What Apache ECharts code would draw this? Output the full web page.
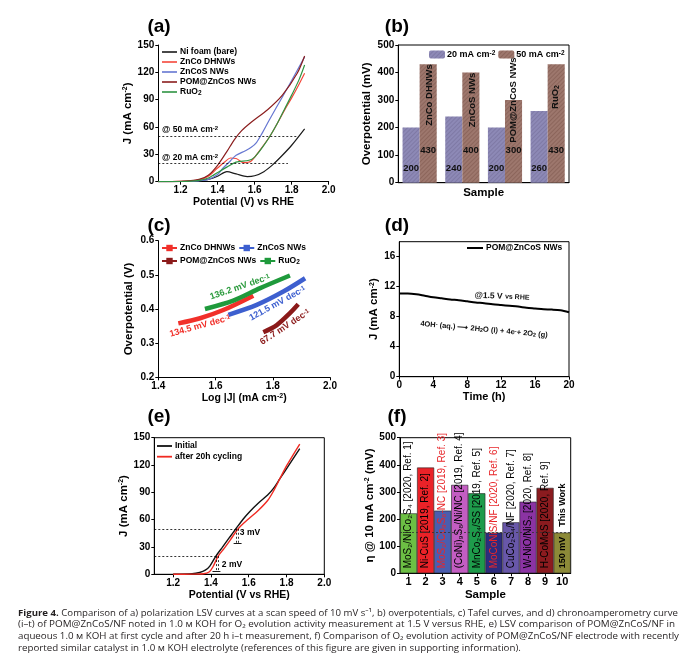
<!DOCTYPE html>
<html><head><meta charset="utf-8">
<script src="https://cdn.jsdelivr.net/npm/echarts@6/dist/echarts.min.js"></script>
<style>html,body{margin:0;padding:0;background:#fff}#c{width:693px;height:661px}</style>
</head><body><div id="c"></div>
<script>
// ---------- DATA ----------
// (a) LSV curves [V vs RHE, J mA cm-2]
const aNiFoam = [[1.08,0],[1.2,0.2],[1.3,1],[1.35,2.5],[1.4,6],[1.45,11],[1.5,8.5],[1.56,5.6],[1.6,6.5],[1.65,11],[1.7,19],[1.75,29],[1.8,40],[1.87,58]];
const aZnCo   = [[1.08,0],[1.2,0.3],[1.3,2],[1.35,6],[1.4,15],[1.44,22],[1.47,26],[1.5,25.5],[1.54,21],[1.58,22.5],[1.63,35],[1.68,49],[1.72,63],[1.76,78],[1.8,92],[1.84,107],[1.87,119]];
const aZnCoS  = [[1.08,0],[1.2,0.2],[1.3,1],[1.35,2.5],[1.4,8],[1.43,15],[1.47,23],[1.5,29],[1.55,34],[1.58,37.5],[1.61,43],[1.64,53],[1.68,68],[1.75,93],[1.8,111],[1.87,137]];
const aPOM    = [[1.08,0],[1.2,0.3],[1.3,2.5],[1.35,7],[1.4,18],[1.45,33],[1.49,46],[1.53,56],[1.58,65],[1.67,79],[1.75,95],[1.83,119],[1.87,138]];
const aRuO2   = [[1.08,0],[1.2,0.2],[1.3,1.5],[1.35,4],[1.38,7.5],[1.45,16],[1.5,21.5],[1.57,23.5],[1.6,27],[1.64,37],[1.68,49],[1.72,63],[1.76,79],[1.8,95],[1.84,112],[1.87,128]];
const aRefLevels = [50, 20];          // dashed reference current densities
const aRefEnds = [1.83, 1.78];        // potential where each dashed line ends
const aTicks = [1.2,1.4,1.6,1.8,2.0];

// (b) overpotentials
const bSamples = ['ZnCo DHNWs','ZnCoS NWs','POM@ZnCoS NWs','RuO₂'];
const b20 = [200, 240, 200, 260];
const b50 = [430, 400, 300, 430];

// (c) Tafel [log|J|, overpotential V]
const cZnCo  = [[1.47,0.358],[1.546,0.373],[1.627,0.397],[1.732,0.439]];
const cZnCoS = [[1.645,0.383],[1.744,0.412],[1.837,0.451],[1.913,0.49]];
const cPOM   = [[1.767,0.332],[1.814,0.353],[1.86,0.388],[1.889,0.414]];
const cRuO2  = [[1.563,0.400],[1.662,0.4246],[1.756,0.461],[1.86,0.498]];

// (d) chronoamperometry
const dTime = [0,1,2,3,4,5,6,7,8,9,10,11,12,13,14,15,16,17,18,19,20];
const dJ    = [11.1,11.1,11.0,10.8,10.6,10.45,10.3,10.2,10.05,9.9,9.8,9.65,9.55,9.45,9.35,9.2,9.1,9.0,8.95,8.85,8.6];

// (e) LSV before / after
const eInitial = [[1.2,0],[1.3,0.6],[1.34,2],[1.37,4.5],[1.394,9],[1.426,20],[1.46,29.6],[1.5,41],[1.532,50],[1.57,60.5],[1.606,69],[1.65,78],[1.7,87],[1.73,94],[1.765,105],[1.81,119],[1.87,138]];
const eAfter   = [[1.2,0],[1.3,0.2],[1.36,0.6],[1.39,2.5],[1.41,8],[1.438,20],[1.47,28.5],[1.5,37],[1.544,50],[1.6,61],[1.65,70],[1.7,81],[1.73,91],[1.765,105],[1.8,119],[1.87,143]];
const eCross50 = [1.532, 1.544];
const eCross20 = [1.426, 1.438];

// (f) comparison
const fCategories = ['1','2','3','4','5','6','7','8','9','10'];
const fValues = [221, 390, 231, 326, 295, 150, 188, 264, 315, 150];
const fLabels = ['MoS₂/NiCo₂S₄ [2020, Ref. 1]','Ni-CuS [2019, Ref. 2]','MoS₂/Co₉S₈-NC [2019, Ref. 3]','(CoNi)₉S₈/Ni/NC [2019, Ref. 4]','MnCo₂S₄/SS [2019, Ref. 5]','MoCoNiS/NF [2020, Ref. 6]','CuCo₂S₄/NF [2020, Ref. 7]','W-NiO/NiS₂ [2020, Ref. 8]','H-CoMoS [2020, Ref. 9]','150 mV    This Work'];
const fRefLevel = 150;

// ---------- STYLE ----------
const F = '"Liberation Sans", Arial, sans-serif';
const fColors = ['#6cbf44','#ea2228','#4a5daf','#c35dc2','#1e9b4b','#2d2c7e','#6857a9','#8b33a3','#8b1b1f','#8c8a38'];
const fLabelColors = ['#000','#000','#e8262a','#000','#000','#e8262a','#000','#000','#000','#000'];

const supRich = {
  sup:{fontSize:7, fontWeight:'bold', fontFamily:F, color:'#000', verticalAlign:'top', lineHeight:8},
  sub:{fontSize:7, fontWeight:'bold', fontFamily:F, color:'#000', verticalAlign:'bottom', lineHeight:8}
};
function axis(o){
  const base = {
    axisLine:{show:true, onZero:false, lineStyle:{color:'#000', width:1}},
    axisTick:{show:true, length:3, lineStyle:{color:'#000', width:1}},
    axisLabel:{color:'#000', fontFamily:F, fontWeight:'bold', fontSize:10, margin:4},
    splitLine:{show:false},
    nameLocation:'middle',
    nameTextStyle:{color:'#000', fontFamily:F, fontWeight:'bold', fontSize:10.5, rich:supRich}
  };
  const r = Object.assign({}, base, o);
  ['axisLine','axisTick','axisLabel','nameTextStyle'].forEach(k=>{ if(o[k]) r[k] = Object.assign({}, base[k], o[k]); });
  return r;
}
const fmt1 = v => (+v).toFixed(1);

const grids = [
  {left:158.3, top:45, width:170.4, height:136.7},
  {left:398.3, top:45, width:170.7, height:137.7, show:true, borderColor:'#000', borderWidth:1},
  {left:158.3, top:240.7, width:171.7, height:136.6},
  {left:399.3, top:241.7, width:169.7, height:135, show:true, borderColor:'#000', borderWidth:1},
  {left:154.3, top:437.7, width:170, height:136.6, show:true, borderColor:'#000', borderWidth:1},
  {left:400, top:437.7, width:170.7, height:135.6, show:true, borderColor:'#000', borderWidth:1}
].map(g=>Object.assign({outerBoundsMode:'none', backgroundColor:'transparent'}, g));

const xAxes = [
  axis({type:'value', gridIndex:0, min:1.08, max:2.0, axisLabel:{customValues:aTicks, formatter:fmt1}, axisTick:{customValues:aTicks}, name:'Potential (V) vs RHE', nameGap:14}),
  axis({type:'category', gridIndex:1, data:bSamples, axisLabel:{show:false}, axisTick:{show:false}, name:'Sample', nameGap:4, nameTextStyle:{fontSize:11.5}}),
  axis({type:'value', gridIndex:2, min:1.4, max:2.0, interval:0.2, axisLabel:{formatter:fmt1}, name:'Log |J| (mA cm{sup|-2})', nameGap:13}),
  axis({type:'value', gridIndex:3, min:0, max:20, interval:4, name:'Time (h)', nameGap:14, nameTextStyle:{fontSize:11}}),
  axis({type:'value', gridIndex:4, min:1.1, max:2.0, axisLabel:{customValues:aTicks, formatter:fmt1}, axisTick:{customValues:aTicks}, name:'Potential (V vs RHE)', nameGap:13}),
  axis({type:'category', gridIndex:5, data:fCategories, axisTick:{alignWithLabel:true}, axisLabel:{fontSize:11, margin:3}, name:'Sample', nameGap:16, nameTextStyle:{fontSize:11.5}})
];
const yAxes = [
  axis({type:'value', gridIndex:0, min:0, max:150, interval:30, name:'J (mA cm{sup|-2})', nameGap:23, nameTextStyle:{fontSize:11.5}}),
  axis({type:'value', gridIndex:1, min:0, max:500, interval:100, name:'Overpotential (mV)', nameGap:25, nameTextStyle:{fontSize:11.5}}),
  axis({type:'value', gridIndex:2, min:0.2, max:0.6, interval:0.1, axisLabel:{formatter:fmt1}, name:'Overpotential (V)', nameGap:23, nameTextStyle:{fontSize:11.5}}),
  axis({type:'value', gridIndex:3, min:0, max:18, axisLabel:{customValues:[0,4,8,12,16]}, axisTick:{customValues:[0,4,8,12,16]}, name:'J (mA cm{sup|-2})', nameGap:19, nameTextStyle:{fontSize:11.5}}),
  axis({type:'value', gridIndex:4, min:0, max:150, interval:30, name:'J (mA cm{sup|-2})', nameGap:21, nameTextStyle:{fontSize:11.5}}),
  axis({type:'value', gridIndex:5, min:0, max:500, interval:100, name:'η @ 10 mA cm{sup|-2} (mV)', nameGap:24, nameTextStyle:{fontSize:11.5}})
];

const dash = {type:[2,2], color:'#000', width:0.8};
function line(name, data, color, gi, width, extra){
  return Object.assign({type:'line', name, data, xAxisIndex:gi, yAxisIndex:gi, smooth:0.3,
    symbol:'none', showSymbol:false, lineStyle:{color, width}, itemStyle:{color}, silent:true, animation:false}, extra||{});
}

const series = [
  line('aNi', aNiFoam, '#1a1a1a', 0, 1.2, {markLine:{silent:true, symbol:['none','none'], label:{show:false}, lineStyle:dash,
    data: aRefLevels.map((lv,i)=>[{coord:[1.08,lv]},{coord:[aRefEnds[i],lv]}])}}),
  line('aZnCo', aZnCo, '#f4473a', 0, 1.2),
  line('aZnCoS', aZnCoS, '#6576d1', 0, 1.2),
  line('aPOM', aPOM, '#8b1e1e', 0, 1.2),
  line('aRuO2', aRuO2, '#2f9443', 0, 1.2),

  {type:'bar', name:'b20', data:b20, xAxisIndex:1, yAxisIndex:1, barGap:'0%', barCategoryGap:'20%', silent:true, animation:false,
   itemStyle:{color:'#8d89b6', decal:{symbol:'rect', symbolSize:1, dashArrayX:[[1,0]], dashArrayY:[1,2], rotation:-Math.PI/4, color:'rgba(60,50,90,0.18)'}},
   label:{show:true, position:'insideBottom', offset:[0,-4], color:'#111', textBorderWidth:0, fontFamily:F, fontWeight:'bold', fontSize:9.5}},
  {type:'bar', name:'b50', data:b50, xAxisIndex:1, yAxisIndex:1, barGap:'0%', barCategoryGap:'20%', silent:true, animation:false,
   itemStyle:{color:'#9d776d', decal:{symbol:'rect', symbolSize:1, dashArrayX:[[1,0]], dashArrayY:[1,2], rotation:-Math.PI/4, color:'rgba(70,30,20,0.2)'}},
   label:{show:true, position:'insideBottom', offset:[0,-22], color:'#111', textBorderWidth:0, fontFamily:F, fontWeight:'bold', fontSize:9.5}},

  line('cZnCo', cZnCo, '#f1302a', 2, 4.5, {symbol:'rect', symbolSize:4, smooth:0.3}),
  line('cZnCoS', cZnCoS, '#3d5fcf', 2, 4.5, {symbol:'rect', symbolSize:4, smooth:0.3}),
  line('cPOM', cPOM, '#8b1a1a', 2, 4.5, {symbol:'rect', symbolSize:4, smooth:0.3}),
  line('cRuO2', cRuO2, '#1f9a3c', 2, 4.5, {symbol:'rect', symbolSize:4, smooth:0.3}),

  line('dPOM', dTime.map((t,i)=>[t,dJ[i]]), '#000', 3, 2),

  line('eInit', eInitial, '#111', 4, 1.4, {markLine:{silent:true, symbol:['none','none'], label:{show:false}, lineStyle:dash,
    data:[
      [{coord:[1.1,50]},{coord:[eCross50[1],50]}],
      [{coord:[1.1,20]},{coord:[eCross20[1],20]}],
      [{coord:[eCross50[0],50]},{coord:[eCross50[0],34]}],
      [{coord:[eCross50[1],50]},{coord:[eCross50[1],34]}],
      [{coord:[eCross20[0],20]},{coord:[eCross20[0],3]}],
      [{coord:[eCross20[1],20]},{coord:[eCross20[1],3]}]
    ]}}),
  line('eAfter', eAfter, '#f02a22', 4, 1.4, {markLine:{silent:true, symbol:['none','arrow'], symbolSize:[0,5], label:{show:false}, lineStyle:{type:'solid', color:'#000', width:0.9},
    data:[
      [{coord:[eCross50[1]+0.018,34]},{coord:[eCross50[0]-0.012,34]}],
      [{coord:[eCross20[1]+0.012,3]},{coord:[eCross20[0]-0.018,3]}]
    ]}}),

  {type:'bar', name:'f', xAxisIndex:5, yAxisIndex:5, barCategoryGap:'0%', silent:true, animation:false,
   data: fValues.map((v,i)=>({value:v, itemStyle:{color:fColors[i]},
       label: i===9 ? {color:fLabelColors[i], fontWeight:'bold', fontSize:9} : {color:fLabelColors[i], fontWeight:'normal'}})),
   itemStyle:{borderColor:'#222', borderWidth:0.6},
   label:{show:true, position:'insideBottom', rotate:90, align:'left', verticalAlign:'middle', distance:5,
     textBorderWidth:0, textBorderColor:'transparent', fontFamily:F, fontSize:10, formatter:p=>fLabels[p.dataIndex]},
   markLine:{silent:true, symbol:['none','none'], label:{show:false}, lineStyle:{type:[2,2], color:'#333', width:0.8},
     data:[{yAxis:fRefLevel}]}}
];

const legendNames = {aNi:'Ni foam (bare)', aZnCo:'ZnCo DHNWs', aZnCoS:'ZnCoS NWs', aPOM:'POM@ZnCoS NWs', aRuO2:'RuO{sub|2}',
  b20:'20 mA cm{sup|-2}', b50:'50 mA cm{sup|-2}', cZnCo:'ZnCo DHNWs', cZnCoS:'ZnCoS NWs', cPOM:'POM@ZnCoS NWs', cRuO2:'RuO{sub|2}',
  dPOM:'POM@ZnCoS NWs', eInit:'Initial', eAfter:'after 20h cycling'};
function legend(o){
  return Object.assign({padding:0, itemGap:0, itemWidth:15, itemHeight:8, selectedMode:false,
    formatter:n=>legendNames[n],
    textStyle:{color:'#000', fontFamily:F, fontWeight:'bold', fontSize:8.5, lineHeight:10, padding:[0,0,0,-2], rich:{
      sup:{fontSize:6.5, fontWeight:'bold', fontFamily:F, color:'#000', verticalAlign:'top', lineHeight:7},
      sub:{fontSize:6.5, fontWeight:'bold', fontFamily:F, color:'#000', verticalAlign:'bottom', lineHeight:7}}}}, o);
}
const legends = [
  legend({data:['aNi','aZnCo','aZnCoS','aPOM','aRuO2'], orient:'vertical', left:162, top:47, icon:'rect', itemHeight:1.6}),
  legend({data:['b20','b50'], orient:'horizontal', left:429, top:50, itemWidth:16, itemHeight:8, itemGap:3, textStyle:{color:'#000', fontFamily:F, fontWeight:'bold', fontSize:9, padding:[0,0,0,-3], rich:{sup:{fontSize:6.5,fontWeight:'bold',fontFamily:F,color:'#000',verticalAlign:'top',lineHeight:7}}}}),
  legend({data:['cZnCo','cZnCoS'], orient:'horizontal', left:161, top:243, itemGap:3}),
  legend({data:['cPOM','cRuO2'], orient:'horizontal', left:161, top:256, itemGap:3}),
  legend({data:['dPOM'], orient:'horizontal', left:467, top:243, itemWidth:16, icon:'rect', itemHeight:2}),
  legend({data:['eInit','eAfter'], orient:'vertical', left:157, top:441, itemGap:0.7, icon:'rect', itemHeight:1.8})
];

// ---------- ANNOTATIONS ----------
function txt(text, x, y, size, color, extra, rich){
  return Object.assign({type:'text', x, y, z:100, silent:true, style:{text, fontFamily:F, fontWeight:'bold', fontSize:size, fill:color||'#000',
    align:'center', verticalAlign:'middle', rich: rich}}, extra||{});
}
const richS = s => ({
  sup:{fontSize:s, fontWeight:'bold', fontFamily:F, verticalAlign:'top', lineHeight:s+1},
  sub:{fontSize:s, fontWeight:'bold', fontFamily:F, verticalAlign:'bottom', lineHeight:s+1},
  s:{fontSize:s+0.5, fontWeight:'bold', fontFamily:F}
});
const graphics = [
  txt('(a)', 159, 27, 19), txt('(b)', 397, 27, 19), txt('(c)', 159, 226, 19),
  txt('(d)', 397, 226, 19), txt('(e)', 159, 417, 19), txt('(f)', 397, 417, 19),
  txt('@ 50 mA cm{sup|-2}', 162, 129.5, 8.5, '#000', {}, richS(6)),
  txt('@ 20 mA cm{sup|-2}', 162, 157.5, 8.5, '#000', {}, richS(6)),
  txt('ZnCo DHNWs', 429.5, 95, 9.5, '#111', {rotation:Math.PI/2}),
  txt('ZnCoS NWs', 472, 100, 9.5, '#111', {rotation:Math.PI/2}),
  txt('POM@ZnCoS NWs', 513.5, 100, 9.5, '#111', {rotation:Math.PI/2}),
  txt('RuO{sub|2}', 555.5, 97, 9.5, '#111', {rotation:Math.PI/2}, richS(7)),
  txt('136.2 mV dec{sup|-1}', 240, 287, 9, '#2a9a3c', {rotation:0.33}, richS(6.5)),
  txt('134.5 mV dec{sup|-1}', 200, 326, 9, '#f1302a', {rotation:0.27}, richS(6.5)),
  txt('121.5 mV dec{sup|-1}', 277.5, 303.5, 9, '#3d5fcf', {rotation:0.5}, richS(6.5)),
  txt('67.7 mV dec{sup|-1}', 285, 327, 9, '#8b1a1a', {rotation:0.58}, richS(6.5)),
  txt('@1.5 V {s|vs RHE}', 502, 296.5, 8.5, '#111', {rotation:-0.05}, richS(6.5)),
  txt('4OH{sup|-} (aq.) ⟶ 2H{sub|2}O (l) + 4e{sup|-}+ 2O{sub|2} (g)', 484, 329.5, 7.5, '#111', {rotation:-0.09}, richS(5.5)),
  txt('3 mV', 250, 533, 8.5), txt('2 mV', 232, 565, 8.5)
];
graphics.forEach(g=>{ if(g.style.text.startsWith('@ ')) { g.style.align='left'; } });

// caption (fit widths by measuring)
const ctx = document.createElement('canvas').getContext('2d');
const capSize = 9.5, capFam = '"Open Sans", "Noto Sans", sans-serif';
function mw(t, bold){ ctx.font = (bold?'bold ':'') + capSize + 'px ' + capFam; return ctx.measureText(t).width; }
const capLines = [
  {b:'Figure 4.', t:' Comparison of a) polarization LSV curves at a scan speed of 10 mV s⁻¹, b) overpotentials, c) Tafel curves, and d) chronoamperometry curve', w:660, y:613},
  {b:'', t:'(i–t) of POM@ZnCoS/NF noted in 1.0 м KOH for O₂ evolution activity measurement at 1.5 V versus RHE, e) LSV comparison of POM@ZnCoS/NF in', w:657, y:624.7},
  {b:'', t:'aqueous 1.0 м KOH at first cycle and after 20 h i–t measurement, f) Comparison of O₂ evolution activity of POM@ZnCoS/NF electrode with recently', w:661, y:636.4},
  {b:'', t:'reported similar catalyst in 1.0 м KOH electrolyte (references of this figure are given in supporting information).', w:0, y:648.1}
];
let scales = [];
capLines.forEach(l=>{ if(l.w){ scales.push(l.w/(mw(l.b,true)+mw(l.t,false))); } });
const avgScale = scales.reduce((a,b)=>a+b,0)/scales.length;
capLines.forEach((l,i)=>{
  const s = l.w ? l.w/(mw(l.b,true)+mw(l.t,false)) : avgScale;
  graphics.push({type:'text', x:18, y:l.y, z:100, scaleX:s, silent:true, style:{
    text:(l.b?'{b|'+l.b+'}':'')+l.t, fontFamily:capFam, fontSize:capSize, fill:'#231f20', align:'left', verticalAlign:'middle',
    rich:{b:{fontWeight:'bold', fontFamily:capFam, fontSize:capSize, fill:'#231f20'}}}});
});

const chart = echarts.init(document.getElementById('c'), null, {renderer:'canvas'});
chart.setOption({
  backgroundColor:'#fff', animation:false,
  grid:grids, xAxis:xAxes, yAxis:yAxes, series, legend:legends, graphic:graphics
});
</script></body></html>
